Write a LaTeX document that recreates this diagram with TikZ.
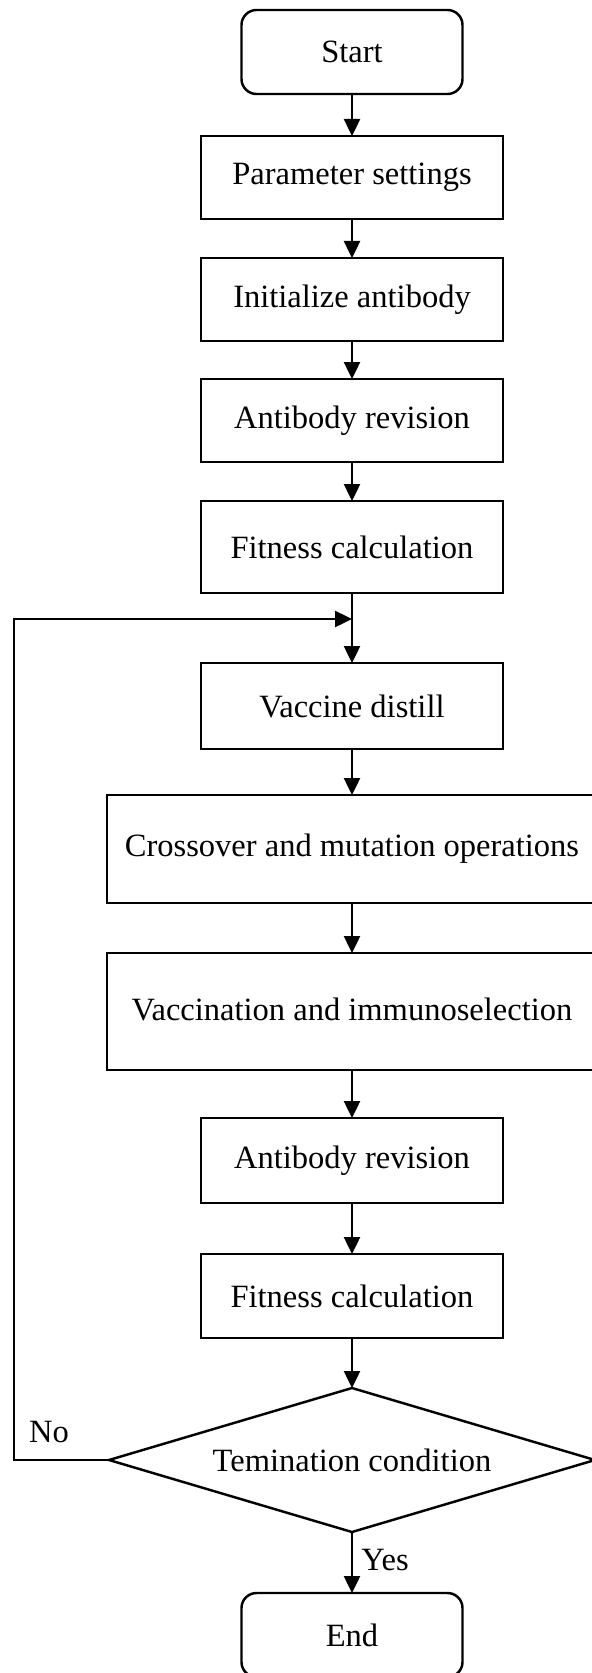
\documentclass[tikz,border=0pt]{standalone}
\usepackage{fontspec}
\setmainfont{Liberation Serif}
\usetikzlibrary{arrows.meta,positioning,shapes.geometric}

\begin{document}
\begin{tikzpicture}[every node/.style={font=\fontsize{18.5}{22}\selectfont}, >={Triangle[width=0.32cm,length=0.34cm]}, line width=1.4pt,
  procbox/.style={draw, minimum width=6.04cm, outer sep=0pt},
  widebox/.style={draw, minimum width=9.8cm, outer sep=0pt},
  termbox/.style={draw, rounded corners=0.3cm, minimum width=4.42cm, minimum height=1.68cm, outer sep=0pt},
  decision/.style={draw, diamond, aspect=3.375, minimum width=9.72cm, minimum height=2.88cm, inner sep=0pt, outer sep=0pt}]
\useasboundingbox (0,0) rectangle (11.82,-33.46);
\node[termbox] (start) at (7.04,-1.04) {Start};
\node[procbox, minimum height=1.66cm, below=0.84cm of start] (param) {Parameter settings};
\node[procbox, minimum height=1.66cm, below=0.78cm of param] (init) {Initialize antibody};
\node[procbox, minimum height=1.66cm, below=0.76cm of init] (revise1) {Antibody revision};
\node[procbox, minimum height=1.84cm, below=0.78cm of revise1] (fit1) {Fitness calculation};
\node[procbox, minimum height=1.72cm, below=1.40cm of fit1] (vaccine) {Vaccine distill};
\node[widebox, minimum height=2.16cm, below=0.92cm of vaccine] (cross) {\raisebox{0.16cm}{Crossover and mutation operations}};
\node[widebox, minimum height=2.34cm, below=1.0cm of cross] (vacc) {\raisebox{0.08cm}{Vaccination and immunoselection}};
\node[procbox, minimum height=1.70cm, below=0.96cm of vacc] (revise2) {Antibody revision};
\node[procbox, minimum height=1.68cm, below=1.02cm of revise2] (fit2) {Fitness calculation};
\node[decision, below=1.0cm of fit2] (cond) {Temination condition};
\node[termbox, below=1.22cm of cond] (end) {End};
\coordinate[below=0.52cm of fit1] (loopin);
\coordinate (leftrail) at (0.28,0);
\node (nolab) at (0.98,-28.64) {No};
\node (yeslab) at (7.7,-31.2) {Yes};
\draw[->] (start) -- (param);
\draw[->] (param) -- (init);
\draw[->] (init) -- (revise1);
\draw[->] (revise1) -- (fit1);
\draw[->] (fit1) -- (vaccine);
\draw[->] (vaccine) -- (cross);
\draw[->] (cross) -- (vacc);
\draw[->] (vacc) -- (revise2);
\draw[->] (revise2) -- (fit2);
\draw[->] (fit2) -- (cond);
\draw[->] (cond) -- (end);
\draw[->] (cond.west) -- (cond.west -| leftrail) |- (loopin);
\end{tikzpicture}
\end{document}
